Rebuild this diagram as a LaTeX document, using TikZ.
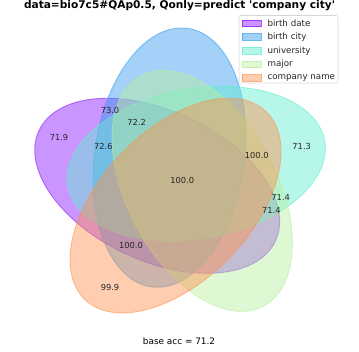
\documentclass[tikz,border=0pt]{standalone}
\usepackage{fontspec}
\setmainfont{DejaVu Sans}
\usepackage{xcolor}
\usepackage{tikz}
\definecolor{bdate}{HTML}{8A14FF}
\definecolor{bcity}{HTML}{3399ED}
\definecolor{univ}{HTML}{5FEDD0}
\definecolor{major}{HTML}{B8EF9F}
\definecolor{cname}{HTML}{FF904D}
\definecolor{frame}{HTML}{D6D6D6}
\usetikzlibrary{positioning}

\begin{document}
\begin{tikzpicture}[x=1pt,y=1pt,
  set/.style={fill=#1,fill opacity=0.45,draw=#1,draw opacity=0.55,line width=0.9pt},
  val/.style={font=\fontsize{8.3}{10}\selectfont,text=black!85,inner sep=0pt},
  patch/.style={rectangle,minimum width=19pt,minimum height=6.5pt,inner sep=0pt,
                fill=#1,fill opacity=0.45,draw=#1,draw opacity=0.7,line width=0.7pt},
  leg/.style={font=\fontsize{8.7}{10}\selectfont,text=black!85,inner sep=0pt,anchor=west}]
  \useasboundingbox (0,0) rectangle (359,352);
  % five ellipses
  \draw[set=bdate,rotate around={155:(157.2,166.2)}](157.2,166.2) ellipse (130.5 and 75);
  \draw[set=bcity,rotate around={82:(169.5,194.4)}] (169.5,194.4) ellipse (130.5 and 75);
  \draw[set=univ, rotate around={10:(196.2,188.4)}] (196.2,188.4) ellipse (130.5 and 75);
  \draw[set=major,rotate around={118:(202.2,161.1)}](202.2,161.1) ellipse (130.5 and 75);
  \draw[set=cname,rotate around={46:(175.5,146.4)}] (175.5,146.4) ellipse (130.5 and 75);
  % region values
  \node[val] (r1) at (110,241.3){73.0};
  \node[val] (r2) at (136.7,229.3){72.2};
  \node[val] (r3) at (59,214.7){71.9};
  \node[val] (r4) at (103.3,205.3){72.6};
  \node[val] (r5) at (301.7,205.3){71.3};
  \node[val] (r6) at (256.7,196.3){100.0};
  \node[val] (r7) at (182.3,172){100.0};
  \node[val] (r8) at (280.7,154.3){71.4};
  \node[val] (r9) at (271.3,142){71.4};
  \node[val] (r10) at (131,106.7){100.0};
  \node[val] (r11) at (110,64.3){99.9};
  % title and footer
  \node[font=\bfseries\fontsize{10.6}{12}\selectfont,anchor=base,inner sep=0pt] (title)
    at (179.5,343.6){data=bio7c5\#QAp0.5, Qonly=predict \textquotesingle company city\textquotesingle};
  \node[font=\fontsize{8.9}{10}\selectfont,inner sep=0pt] (base) at (179,11.3){base acc = 71.2};
  % legend
  \draw[draw=frame,fill=white,fill opacity=0.8,rounded corners=2pt,line width=0.6pt]
    (239,269) rectangle (338,336.5);
  \node[patch=bdate] (p1) at (251.5,328.7){};
  \node[patch=bcity,below=6.5pt of p1](p2){};
  \node[patch=univ, below=6.5pt of p2](p3){};
  \node[patch=major,below=6.5pt of p3](p4){};
  \node[patch=cname,below=6.5pt of p4](p5){};
  \node[leg,right=6pt of p1](t1){birth date};
  \node[leg,right=6pt of p2](t2){birth city};
  \node[leg,right=6pt of p3](t3){university};
  \node[leg,right=6pt of p4](t4){major};
  \node[leg,right=6pt of p5](t5){company name};
\end{tikzpicture}
\end{document}
